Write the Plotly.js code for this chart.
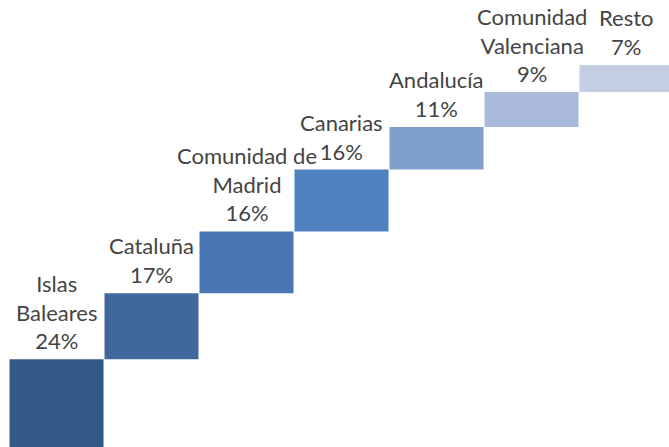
<!DOCTYPE html>
<html><head><meta charset="utf-8">
<script src="https://cdn.plot.ly/plotly-3.0.1.min.js"></script>
<style>html,body{margin:0;padding:0;background:#fff}#chart{width:669px;height:447px}</style>
</head><body><div id="chart"></div>
<script>
const categories = ["Islas<br>Baleares", "Cataluña", "Comunidad de<br>Madrid", "Canarias", "Andalucía", "Comunidad<br>Valenciana", "Resto"];
const values = [24, 17, 16, 16, 11, 9, 7];
const colors = ["#335A87", "#3F699D", "#4776B2", "#4E81BE", "#819FCD", "#A9B9D9", "#C4CFE4"];

const bases = [];
let acc = 0;
values.forEach(v => { bases.push(acc); acc += v; });
const xs = categories.map((c, i) => i);

const trace = {
  type: "bar",
  x: xs,
  y: values,
  base: bases,
  marker: { color: colors, line: { width: 0 } },
  hoverinfo: "none"
};

const annotations = categories.map((c, i) => ({
  x: i, y: bases[i] + values[i],
  xref: "x", yref: "y",
  text: c + "<br>" + values[i] + "%",
  showarrow: false,
  yanchor: "bottom",
  xanchor: "center",
  yshift: 3,
  font: { family: "Lato, 'Open Sans', sans-serif", size: 22, color: "#444444" }
}));

const layout = {
  width: 669, height: 447,
  margin: { l: 9, r: 0, t: 0, b: 0 },
  paper_bgcolor: "#ffffff", plot_bgcolor: "#ffffff",
  showlegend: false,
  bargap: 0.0105,
  xaxis: { range: [-0.5, 6.447], visible: false, fixedrange: true },
  yaxis: { range: [1.3, 116.8], visible: false, fixedrange: true },
  annotations: annotations
};

Plotly.newPlot("chart", [trace], layout, { displayModeBar: false, staticPlot: true });
</script>
</body></html>
